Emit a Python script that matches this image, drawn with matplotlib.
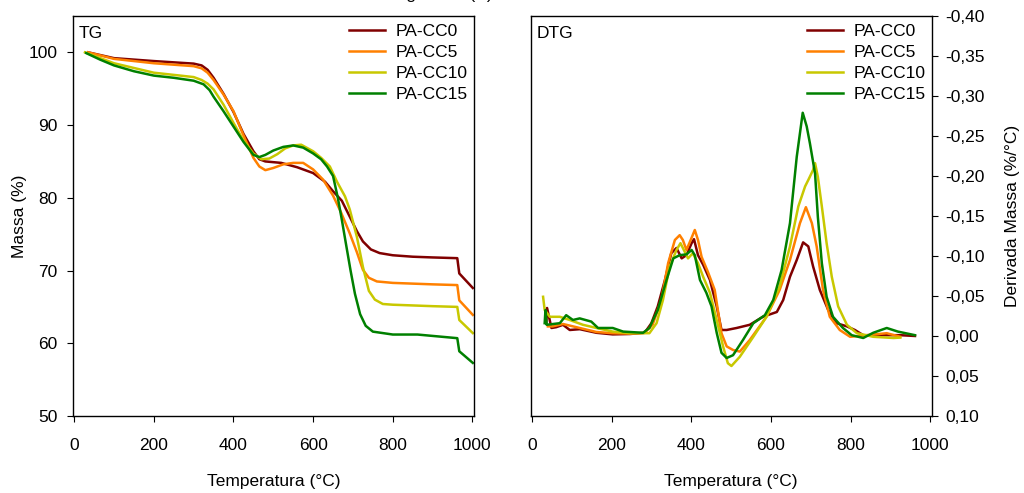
import matplotlib
matplotlib.use('Agg')
import matplotlib.pyplot as plt
from matplotlib.ticker import FuncFormatter

plt.rcParams['font.family'] = ['Liberation Sans', 'DejaVu Sans']

labels = ['PA-CC0', 'PA-CC5', 'PA-CC10', 'PA-CC15']
colors = ['#800000', '#FF8000', '#C8C800', '#008000']

# TG: temperatura (°C) e massa (%)
tg_t0 = [35, 100, 200, 300, 320, 335, 350, 375, 400, 425, 450, 465, 480, 520, 560, 600, 630, 650, 672, 692, 710, 725, 745, 767, 800, 850, 900, 962, 967, 1001]
tg_m0 = [100.0, 99.2, 98.8, 98.45, 98.2, 97.6, 96.5, 94.3, 91.8, 88.8, 86.4, 85.3, 85.0, 84.8, 84.2, 83.4, 82.2, 80.9, 79.6, 77.4, 75.4, 74.0, 72.9, 72.4, 72.1, 71.9, 71.8, 71.7, 69.6, 67.6]
tg_t1 = [35, 100, 200, 300, 320, 335, 350, 375, 400, 425, 450, 465, 480, 500, 525, 550, 575, 600, 625, 650, 670, 692, 710, 725, 740, 760, 800, 900, 962, 967, 1001]
tg_m1 = [100.0, 99.1, 98.5, 98.1, 97.8, 97.2, 96.2, 94.2, 91.9, 88.6, 85.5, 84.3, 83.8, 84.1, 84.6, 84.8, 84.8, 83.9, 82.5, 80.3, 78.0, 75.1, 72.5, 70.1, 69.0, 68.5, 68.3, 68.1, 68.0, 65.9, 63.9]
tg_t2 = [27, 100, 200, 300, 320, 335, 350, 375, 400, 425, 450, 470, 490, 510, 530, 550, 570, 600, 620, 642, 660, 680, 692, 710, 725, 740, 755, 775, 800, 900, 962, 967, 1001]
tg_m2 = [100.0, 98.5, 97.2, 96.6, 96.2, 95.7, 94.9, 92.8, 90.3, 87.9, 86.1, 85.3, 85.4, 86.0, 86.8, 87.2, 87.3, 86.4, 85.5, 84.3, 82.2, 80.2, 78.4, 74.6, 70.5, 67.2, 66.0, 65.4, 65.3, 65.1, 65.0, 63.2, 61.4]
tg_t3 = [30, 65, 100, 150, 200, 250, 300, 325, 340, 350, 375, 400, 425, 450, 465, 480, 500, 525, 550, 575, 600, 620, 635, 650, 662, 672, 682, 694, 705, 718, 732, 750, 800, 862, 962, 967, 1001]
tg_m3 = [99.9, 99.0, 98.2, 97.4, 96.8, 96.5, 96.1, 95.6, 94.8, 93.9, 91.9, 89.8, 87.7, 85.9, 85.6, 85.9, 86.5, 87.0, 87.2, 86.9, 86.1, 85.3, 84.3, 83.0, 80.0, 77.0, 73.8, 70.0, 66.8, 64.0, 62.4, 61.6, 61.2, 61.2, 60.7, 58.9, 57.3]

# DTG: temperatura (°C) e derivada (%/°C)
dtg_t0 = [36, 38, 49, 61, 78, 95, 120, 162, 203, 246, 283, 300, 316, 334, 350, 363, 376, 388, 401, 407, 417, 430, 447, 464, 476, 489, 514, 547, 580, 615, 631, 648, 665, 681, 694, 706, 723, 744, 765, 791, 811, 832, 891, 925, 962]
dtg_v0 = [-0.016, -0.035, -0.010, -0.011, -0.014, -0.0075, -0.0085, -0.004, -0.002, -0.0025, -0.004, -0.016, -0.037, -0.070, -0.1035, -0.110, -0.097, -0.101, -0.116, -0.121, -0.101, -0.089, -0.070, -0.037, -0.0075, -0.0075, -0.010, -0.014, -0.024, -0.030, -0.045, -0.074, -0.095, -0.117, -0.112, -0.087, -0.0575, -0.0325, -0.016, -0.012, -0.0075, -0.001, -0.001, -0.001, 0.0]
dtg_t1 = [40, 52, 78, 120, 162, 203, 246, 283, 303, 325, 342, 359, 371, 379, 388, 397, 409, 417, 426, 442, 459, 476, 489, 505, 522, 547, 589, 622, 648, 673, 688, 703, 715, 731, 748, 773, 799, 841, 891, 925]
dtg_v1 = [-0.012, -0.012, -0.015, -0.010, -0.005, -0.0035, -0.003, -0.004, -0.014, -0.045, -0.091, -0.120, -0.126, -0.120, -0.1075, -0.118, -0.1325, -0.120, -0.099, -0.080, -0.0575, -0.0035, 0.013, 0.0175, 0.0195, 0.005, -0.024, -0.0575, -0.095, -0.141, -0.161, -0.141, -0.112, -0.0575, -0.024, -0.0075, 0.001, -0.001, -0.0035, 0.001]
dtg_t2 = [28, 32, 45, 70, 95, 128, 162, 203, 246, 295, 313, 329, 346, 363, 373, 384, 392, 404, 417, 430, 447, 464, 480, 492, 501, 522, 556, 589, 622, 648, 669, 686, 694, 706, 711, 718, 728, 740, 753, 769, 791, 816, 857, 908, 925]
dtg_v2 = [-0.049, -0.0325, -0.024, -0.024, -0.020, -0.014, -0.010, -0.0055, -0.0035, -0.0035, -0.016, -0.045, -0.087, -0.1075, -0.116, -0.105, -0.097, -0.1035, -0.091, -0.074, -0.054, -0.020, 0.013, 0.034, 0.0375, 0.026, 0.001, -0.024, -0.062, -0.112, -0.162, -0.187, -0.195, -0.2075, -0.216, -0.199, -0.162, -0.116, -0.074, -0.037, -0.014, -0.0035, 0.001, 0.0025, 0.002]
dtg_t3 = [32, 34, 37, 70, 86, 103, 120, 149, 166, 203, 229, 279, 295, 316, 338, 355, 371, 388, 401, 409, 422, 438, 451, 464, 476, 489, 505, 530, 556, 585, 606, 627, 648, 665, 680, 690, 698, 711, 718, 728, 740, 756, 781, 803, 832, 857, 891, 919, 962]
dtg_v3 = [-0.016, -0.0325, -0.014, -0.016, -0.026, -0.020, -0.022, -0.018, -0.010, -0.010, -0.0055, -0.004, -0.010, -0.0325, -0.070, -0.097, -0.101, -0.102, -0.1075, -0.101, -0.070, -0.054, -0.037, -0.004, 0.021, 0.0275, 0.024, 0.005, -0.016, -0.026, -0.045, -0.0825, -0.141, -0.224, -0.279, -0.262, -0.241, -0.203, -0.149, -0.091, -0.049, -0.024, -0.010, -0.001, 0.0025, -0.004, -0.010, -0.0055, -0.001]

tg_series = [(tg_t0, tg_m0), (tg_t1, tg_m1), (tg_t2, tg_m2), (tg_t3, tg_m3)]
dtg_series = [(dtg_t0, dtg_v0), (dtg_t1, dtg_v1), (dtg_t2, dtg_v2), (dtg_t3, dtg_v3)]

FS = 12.5
fig = plt.figure(figsize=(10.24, 4.93), dpi=100)
ax1 = fig.add_axes([0.0713, 0.1562, 0.3916, 0.8114])
ax2 = fig.add_axes([0.5183, 0.1562, 0.3916, 0.8114])

for (t, m), c, lab in zip(tg_series, colors, labels):
    ax1.plot(t, m, color=c, lw=1.8, label=lab)
for (t, v), c, lab in zip(dtg_series, colors, labels):
    ax2.plot(t, v, color=c, lw=1.8, label=lab)

ax1.set_xlim(-3, 1004)
ax1.set_ylim(50, 105)
ax1.set_yticks([50, 60, 70, 80, 90, 100])
ax1.set_xticks([0, 200, 400, 600, 800, 1000])
ax1.set_xlabel('Temperatura (°C)', fontsize=FS, labelpad=15)
ax1.set_ylabel('Massa (%)', fontsize=FS, labelpad=1)
ax1.tick_params(axis='x', direction='out', length=4, pad=12, labelsize=FS, top=False)
ax1.tick_params(axis='y', direction='out', length=4, pad=7, labelsize=FS, right=False)
ax1.text(0.015, 0.975, 'TG', transform=ax1.transAxes, fontsize=FS, va='top', ha='left')

ax2.set_xlim(-3, 1004)
ax2.set_ylim(0.10, -0.40)
ax2.set_yticks([0.10, 0.05, 0.0, -0.05, -0.10, -0.15, -0.20, -0.25, -0.30, -0.35, -0.40])
ax2.yaxis.set_major_formatter(FuncFormatter(lambda v, p: f'{v:.2f}'.replace('.', ',').replace('-0,00', '0,00')))
ax2.set_xticks([0, 200, 400, 600, 800, 1000])
ax2.yaxis.tick_right()
ax2.yaxis.set_label_position('right')
ax2.set_xlabel('Temperatura (°C)', fontsize=FS, labelpad=15)
ax2.set_ylabel('Derivada Massa (%/°C)', fontsize=FS, labelpad=14)
ax2.tick_params(axis='x', direction='out', length=4, pad=12, labelsize=FS, top=False)
ax2.tick_params(axis='y', direction='out', length=4, pad=6, labelsize=FS, left=False)
ax2.text(0.015, 0.975, 'DTG', transform=ax2.transAxes, fontsize=FS, va='top', ha='left')

for ax in (ax1, ax2):
    for s in ax.spines.values():
        s.set_linewidth(1.0)
    ax.legend(loc='upper right', bbox_to_anchor=(1.015, 1.01), frameon=False, fontsize=FS,
              handlelength=2.1, handletextpad=0.6, labelspacing=0.34, borderaxespad=0.3)

# legenda da figura, cortada na borda superior como no original
fig.text(0.415, 0.995, 'Termogramas (X)', ha='center', va='bottom', fontsize=FS)

fig.savefig('out.png', dpi=100)
